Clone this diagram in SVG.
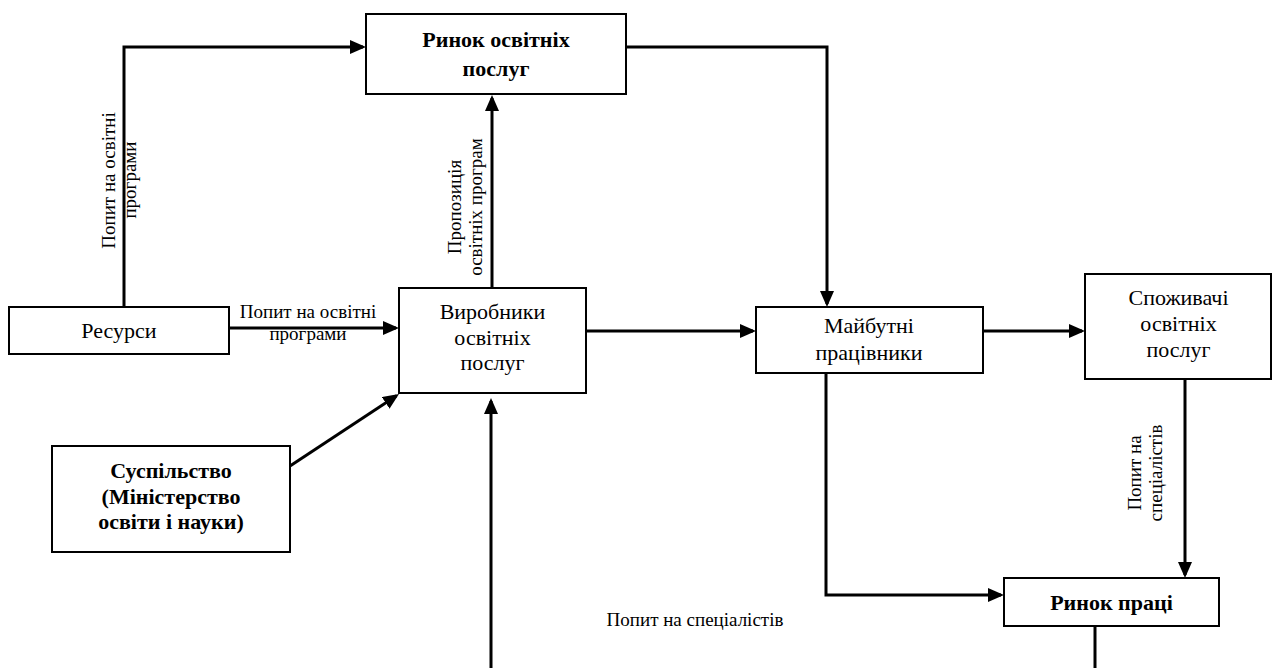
<svg xmlns="http://www.w3.org/2000/svg" width="1273" height="668" viewBox="0 0 1273 668">
<style>
  .box { fill: #fff; stroke: #000; stroke-width: 2; }
  text { font-family: 'Liberation Serif', 'Times New Roman', serif; fill: #000; text-anchor: middle; }
  .t { font-size: 22px; }
  .b { font-weight: bold; }
  .lbl { font-size: 19px; }
  .c { fill: none; stroke: #000; stroke-width: 3; }
</style>
<defs>
  <marker id="arr" markerUnits="userSpaceOnUse" markerWidth="16" markerHeight="14" viewBox="0 0 16 14" refX="13" refY="7" orient="auto">
    <path d="M0,0 L16,7 L0,14 z" fill="#000"/>
  </marker>
</defs>
<rect width="1273" height="668" fill="#fff"/>

<g id="connectors">
  <path class="c" d="M124,307 V47 H363" marker-end="url(#arr)"/>
  <path class="c" d="M229,328 H396" marker-end="url(#arr)"/>
  <path class="c" d="M492,288 V98" marker-end="url(#arr)"/>
  <path class="c" d="M626,47 H827 V304" marker-end="url(#arr)"/>
  <path class="c" d="M586,331 H753" marker-end="url(#arr)"/>
  <path class="c" d="M983,331 H1082" marker-end="url(#arr)"/>
  <path class="c" d="M1185,379 V575" marker-end="url(#arr)"/>
  <path class="c" d="M826,373 V595 H1001" marker-end="url(#arr)"/>
  <path class="c" d="M290,466 L396.5,395.7" marker-end="url(#arr)"/>
  <path class="c" d="M491,668 V401" marker-end="url(#arr)"/>
  <path class="c" d="M1095,627 V668"/>
</g>

<g id="labels">
  <text class="lbl" transform="translate(115,180.5) rotate(-90)">Попит на освітні</text>
  <text class="lbl" transform="translate(136,180) rotate(-90)">програми</text>
  <text class="lbl" x="308" y="318">Попит на освітні</text>
  <text class="lbl" x="308" y="340">програми</text>
  <text class="lbl" transform="translate(461,207) rotate(-90)">Пропозиція</text>
  <text class="lbl" transform="translate(482,207) rotate(-90)">освітніх програм</text>
  <text class="lbl" transform="translate(1141,473) rotate(-90)">Попит на</text>
  <text class="lbl" transform="translate(1162,473) rotate(-90)">спеціалістів</text>
  <text class="lbl" x="695" y="626">Попит на спеціалістів</text>
</g>

<g id="node-rynok-osvitnikh">
  <rect class="box" x="366" y="14" width="260" height="80"/>
  <text class="t b" x="496" y="47">Ринок освітніх</text>
  <text class="t b" x="496" y="76">послуг</text>
</g>

<g id="node-resursy">
  <rect class="box" x="9" y="307" width="220" height="47"/>
  <text class="t" x="119" y="338">Ресурси</text>
</g>

<g id="node-vyrobnyky">
  <rect class="box" x="399" y="288" width="187" height="105"/>
  <text class="t" x="492.5" y="319">Виробники</text>
  <text class="t" x="492.5" y="344.5">освітніх</text>
  <text class="t" x="492.5" y="370">послуг</text>
</g>

<g id="node-maibutni">
  <rect class="box" x="756" y="307" width="227" height="66"/>
  <text class="t" x="869" y="333">Майбутні</text>
  <text class="t" x="869" y="360">працівники</text>
</g>

<g id="node-spozhyvachi">
  <rect class="box" x="1085" y="274" width="186" height="105"/>
  <text class="t" x="1178.5" y="305">Споживачі</text>
  <text class="t" x="1178.5" y="331">освітніх</text>
  <text class="t" x="1178.5" y="357">послуг</text>
</g>

<g id="node-suspilstvo">
  <rect class="box" x="52" y="446" width="238" height="106"/>
  <text class="t b" x="171" y="478">Суспільство</text>
  <text class="t b" x="171" y="504">(Міністерство</text>
  <text class="t b" x="171" y="528.5">освіти і науки)</text>
</g>

<g id="node-rynok-pratsi">
  <rect class="box" x="1004" y="578" width="215" height="48"/>
  <text class="t b" x="1111.5" y="610">Ринок праці</text>
</g>
</svg>
